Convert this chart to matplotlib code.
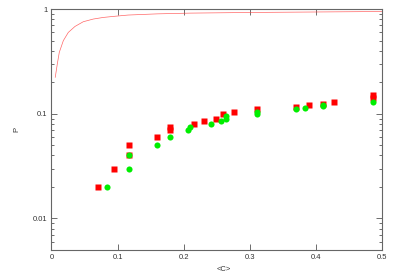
import matplotlib.pyplot as plt
from matplotlib.ticker import LogLocator, NullFormatter, FixedLocator

# Data
curve_x = [0.0057, 0.0088, 0.0118, 0.0179, 0.0254, 0.0356, 0.0481, 0.0632,
           0.0784, 0.0935, 0.116, 0.16, 0.21, 0.30, 0.40, 0.50]
curve_y = [0.223, 0.299, 0.386, 0.499, 0.598, 0.683, 0.757, 0.803,
           0.832, 0.851, 0.877, 0.90, 0.915, 0.928, 0.938, 0.948]

red_x = [0.07, 0.095, 0.117, 0.117, 0.16, 0.18, 0.18, 0.215, 0.231, 0.249,
         0.26, 0.276, 0.311, 0.37, 0.389, 0.41, 0.427, 0.487, 0.487]
red_y = [0.02, 0.03, 0.05, 0.04, 0.06, 0.075, 0.07, 0.08, 0.085, 0.09,
         0.1, 0.105, 0.11, 0.115, 0.12, 0.125, 0.13, 0.15, 0.14]

green_x = [0.084, 0.117, 0.117, 0.16, 0.18, 0.207, 0.21, 0.241, 0.257, 0.264,
           0.264, 0.311, 0.311, 0.37, 0.383, 0.41, 0.41, 0.487]
green_y = [0.02, 0.04, 0.03, 0.05, 0.06, 0.07, 0.075, 0.08, 0.085, 0.09,
           0.095, 0.1, 0.104, 0.11, 0.114, 0.119, 0.122, 0.13]

xticks = [0, 0.1, 0.2, 0.3, 0.4, 0.5]
xticklabels = ['0', '0.1', '0.2', '0.3', '0.4', '0.5']
yticks = [0.01, 0.1, 1]
yticklabels = ['0.01', '0.1', '1']

plt.rcParams['font.family'] = ['Liberation Sans', 'DejaVu Sans']

fig = plt.figure(figsize=(3.93, 2.75), dpi=100)
ax = fig.add_axes([0.131, 0.091, 0.841, 0.876])

ax.plot(curve_x, curve_y, '-', color='#ff4040', lw=0.5, alpha=0.8)
ax.plot(red_x, red_y, 's', color='#ff0000', ms=4.6, mec='none')
ax.plot(green_x, green_y, 'o', color='#00ee00', ms=4.4, mec='none')

ax.set_yscale('log')
ax.set_xlim(0, 0.5)
ax.set_ylim(0.005, 1)

ax.xaxis.set_major_locator(FixedLocator(xticks))
ax.set_xticklabels(xticklabels)
ax.yaxis.set_major_locator(FixedLocator(yticks))
ax.set_yticklabels(yticklabels)
ax.yaxis.set_minor_locator(LogLocator(base=10, subs=range(2, 10)))
ax.yaxis.set_minor_formatter(NullFormatter())

ax.tick_params(which='both', direction='in', top=True, right=True,
               color='#555555', labelsize=5.5, labelcolor='#333333', pad=3)
ax.tick_params(which='major', length=4, width=0.6)
ax.tick_params(which='minor', length=2, width=0.6)
for s in ax.spines.values():
    s.set_color('#666666')
    s.set_linewidth(0.8)

ax.set_xlabel('<C>', fontsize=5.5, color='#333333')
ax.xaxis.set_label_coords(0.52, -0.065)
ax.set_ylabel('P', fontsize=5.5, color='#333333')
ax.yaxis.set_label_coords(-0.095, 0.5)

fig.savefig('out.png', dpi=100)
